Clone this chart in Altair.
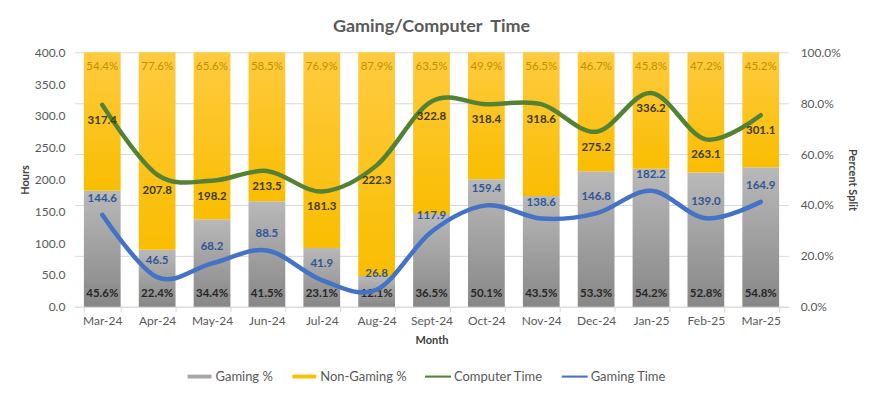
import altair as alt
import pandas as pd

months = ["Mar-24", "Apr-24", "May-24", "Jun-24", "Jul-24", "Aug-24", "Sept-24",
          "Oct-24", "Nov-24", "Dec-24", "Jan-25", "Feb-25", "Mar-25"]
gaming_pct = [45.6, 22.4, 34.4, 41.5, 23.1, 12.1, 36.5, 50.1, 43.5, 53.3, 54.2, 52.8, 54.8]
nongaming_pct = [54.4, 77.6, 65.6, 58.5, 76.9, 87.9, 63.5, 49.9, 56.5, 46.7, 45.8, 47.2, 45.2]
computer_time = [317.4, 207.8, 198.2, 213.5, 181.3, 222.3, 322.8, 318.4, 318.6, 275.2, 336.2, 263.1, 301.1]
gaming_time = [144.6, 46.5, 68.2, 88.5, 41.9, 26.8, 117.9, 159.4, 138.6, 146.8, 182.2, 139.0, 164.9]
series = ["Gaming %", "Non-Gaming %", "Computer Time", "Gaming Time"]
series_colors = ["#a6a6a6", "#ffc000", "#548235", "#4472c4"]
hour_ticks = [0, 50, 100, 150, 200, 250, 300, 350, 400]
pct_ticks = [0, 0.2, 0.4, 0.6, 0.8, 1.0]

FONT = "Lato"
TXT = "#595959"

df = pd.DataFrame({
    "month": months,
    "g": [v / 100 for v in gaming_pct],
    "ng": [v / 100 for v in nongaming_pct],
    "ct": computer_time,
    "gt": gaming_time,
})
df["top"] = df["g"] + df["ng"]
leg_df = pd.DataFrame({"s": series})

x_enc = alt.X("month:N", sort=months, title="Month",
              scale=alt.Scale(paddingInner=0.33, paddingOuter=0.165),
              axis=alt.Axis(labelAngle=0, tickBand="extent", domainColor="#d9d9d9",
                            tickColor="#d9d9d9", tickSize=5, labelPadding=4,
                            titlePadding=8, grid=False))

pct_scale = alt.Scale(domain=[0, 1])
pct_axis = alt.Axis(orient="right", format=".1%", values=pct_ticks, grid=True,
                    gridColor="#d9d9d9", domain=False, ticks=False, labelPadding=12,
                    titlePadding=6)
hr_scale = alt.Scale(domain=[0, 400])
hr_axis = alt.Axis(orient="left", format=".1f", values=hour_ticks, grid=False,
                   domain=False, ticks=False, labelPadding=10, titlePadding=4)

gray_grad = alt.LinearGradient(gradient="linear", x1=0, x2=0, y1=0, y2=1,
                               stops=[alt.GradientStop(color="#b9b9b9", offset=0),
                                      alt.GradientStop(color="#878787", offset=1)])
yellow_grad = alt.LinearGradient(gradient="linear", x1=0, x2=0, y1=0, y2=1,
                                 stops=[alt.GradientStop(color="#ffcb40", offset=0),
                                        alt.GradientStop(color="#f9bd00", offset=1)])

base = alt.Chart(df)

gray = base.mark_bar(color=gray_grad).encode(
    x=x_enc, y=alt.Y("g:Q", scale=pct_scale, axis=pct_axis, title="Percent Split"))
yellow = base.mark_bar(color=yellow_grad).encode(
    x=x_enc, y=alt.Y("g:Q", scale=pct_scale, axis=pct_axis, title="Percent Split"), y2="top:Q")
top_txt = base.mark_text(dy=15, color="#bf9000", font=FONT, fontSize=11.5).encode(
    x=x_enc, y=alt.Y("top:Q", scale=pct_scale, axis=pct_axis, title="Percent Split"),
    text=alt.Text("ng:Q", format=".1%"))
bot_txt = base.mark_text(dy=-13, color="#262626", font=FONT, fontSize=11.5,
                         fontWeight="bold").encode(
    x=x_enc, y=alt.Y(datum=0, scale=pct_scale, axis=pct_axis, title="Percent Split"),
    text=alt.Text("g:Q", format=".1%"))
bars = alt.layer(gray, yellow, top_txt, bot_txt)

green = base.mark_line(color="#548235", strokeWidth=4.5, interpolate="cardinal",
                       strokeCap="round").encode(
    x=x_enc, y=alt.Y("ct:Q", scale=hr_scale, axis=hr_axis, title="Hours"))
blue = base.mark_line(color="#4472c4", strokeWidth=4.5, interpolate="cardinal",
                      strokeCap="round").encode(
    x=x_enc, y=alt.Y("gt:Q", scale=hr_scale, axis=hr_axis, title="Hours"))
green_txt = base.mark_text(dy=16, color="#3a3a1c", font=FONT, fontSize=11.5,
                           fontWeight="bold").encode(
    x=x_enc, y=alt.Y("ct:Q", scale=hr_scale, axis=hr_axis, title="Hours"),
    text=alt.Text("ct:Q", format=".1f"))
blue_txt = base.mark_text(dy=-16, color="#2f5597", font=FONT, fontSize=11.5,
                          fontWeight="bold").encode(
    x=x_enc, y=alt.Y("gt:Q", scale=hr_scale, axis=hr_axis, title="Hours"),
    text=alt.Text("gt:Q", format=".1f"))

rect_path = "M-0.92,-0.15H0.92V0.15H-0.92Z"
line_path = "M-1,-0.08H1V0.08H-1Z"
legend_layer = alt.Chart(leg_df).mark_point(filled=True, opacity=0).encode(
    color=alt.Color("s:N", scale=alt.Scale(domain=series, range=series_colors),
                    legend=alt.Legend(title=None, orient="none", direction="horizontal",
                                      legendX=112, legendY=312)),
    shape=alt.Shape("s:N", scale=alt.Scale(domain=series,
                                           range=[rect_path, rect_path, line_path, line_path]),
                    legend=alt.Legend(title=None, orient="none", direction="horizontal",
                                      legendX=112, legendY=312)),
)

lines = alt.layer(green, blue, green_txt, blue_txt, legend_layer)

chart = alt.layer(bars, lines).resolve_scale(y="independent").properties(
    width=715, height=255,
    padding={"left": 11, "top": 10, "right": 5, "bottom": 5},
    title=alt.TitleParams("Gaming/Computer\u00a0 Time", fontSize=18, fontWeight="bold",
                          color=TXT, font=FONT, anchor="middle", offset=10),
).configure_view(stroke=None).configure_axis(
    labelFont=FONT, labelFontSize=12, labelColor=TXT,
    titleFont=FONT, titleFontSize=11, titleFontWeight="bold", titleColor="#404040",
).configure_legend(
    labelFont=FONT, labelFontSize=13, labelColor=TXT, symbolSize=676,
    symbolStrokeWidth=0, symbolOpacity=1, columnPadding=18, labelOffset=3, padding=0,
)

chart.save("out.html", embed_options={"renderer": "svg", "actions": False})
